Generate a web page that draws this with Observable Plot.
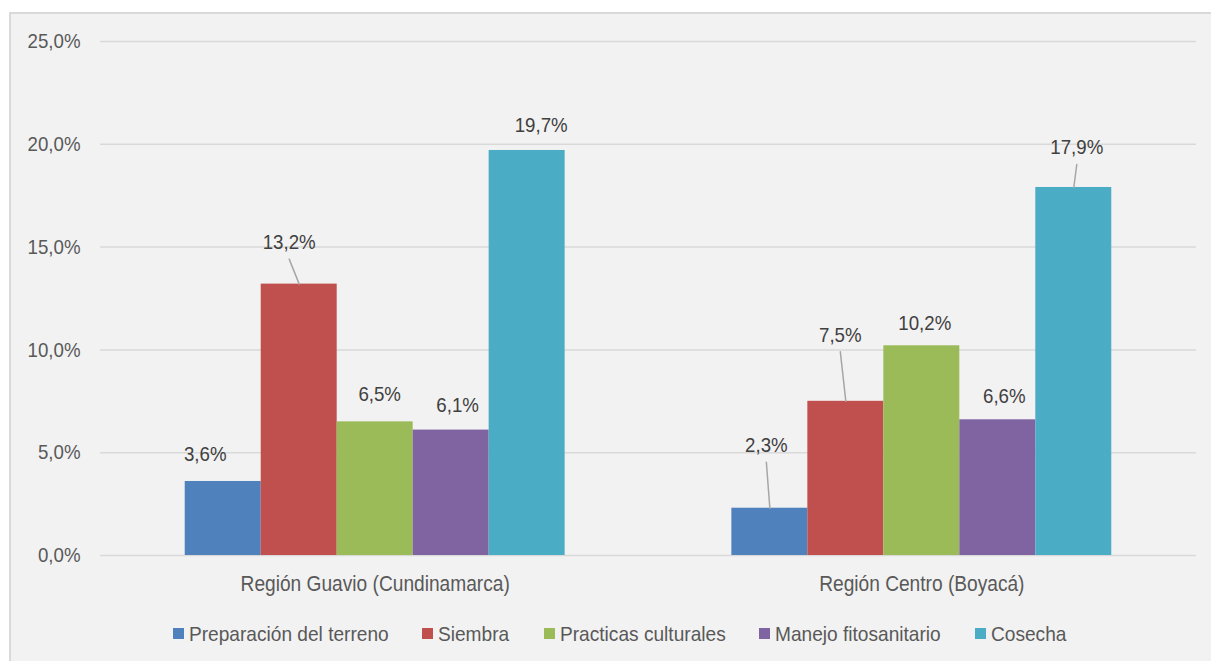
<!DOCTYPE html>
<html><head><meta charset="utf-8">
<script src="https://cdn.jsdelivr.net/npm/d3@7"></script>
<script src="https://cdn.jsdelivr.net/npm/@observablehq/plot@0.6"></script>
<style>
body{margin:0;background:#fff;width:1211px;height:661px;overflow:hidden;position:relative;}
#frame{position:absolute;left:9px;top:12px;width:1202px;height:649px;background:#f2f2f2;border-left:2px solid #d9d9d9;border-top:2px solid #d9d9d9;box-sizing:border-box;}
#grid,#chart{position:absolute;left:0;top:0;}
#legend{position:absolute;left:28px;top:620px;width:1183px;height:27px;display:flex;justify-content:center;align-items:center;
  font-family:"Liberation Sans",Arial,sans-serif;font-size:21px;color:#595959;}
#legend .item{display:flex;align-items:center;margin-right:34px;}
#legend .item:last-child{margin-right:0;}
#legend .sw{width:11px;height:11px;margin-right:5px;flex:none;}
#legend .lab{display:inline-block;white-space:nowrap;overflow:visible;}
#legend .lab span{display:inline-block;transform-origin:0 50%;}
</style></head><body>
<div id="frame"></div><div id="grid"></div><div id="chart"></div><div id="legend"></div>
<script>
const regions = ["Región Guavio (Cundinamarca)", "Región Centro (Boyacá)"];
const activities = ["Preparación del terreno", "Siembra", "Practicas culturales", "Manejo fitosanitario", "Cosecha"];
const guavio = [3.6, 13.2, 6.5, 6.1, 19.7];
const centro = [2.3, 7.5, 10.2, 6.6, 17.9];
const yTicks = [0, 5, 10, 15, 20, 25];
const colors = ["#4f81bd", "#c0504d", "#9bbb59", "#8064a2", "#4bacc6"];
// label placement (px, relative to the top-centre of each bar), as in the original
const labelDxGuavio = [-18, -10, 4.5, 6.5, 14];
const labelDyGuavio = [-27.5, -42, -28, -25, -25];
const labelDxCentro = [-3.5, -5.5, 3, 6.5, 3];
const labelDyCentro = [-63, -66.5, -23, -24, -40];
const leaderGuavio = [false, true, false, false, false];
const leaderCentro = [true, true, false, false, true];

const fmt = v => v.toFixed(1).replace(".", ",") + "%";
const FONT = '"Liberation Sans",Arial,sans-serif';

const series = [
  {region: regions[0], values: guavio, dx: labelDxGuavio, dy: labelDyGuavio, leader: leaderGuavio},
  {region: regions[1], values: centro, dx: labelDxCentro, dy: labelDyCentro, leader: leaderCentro}
];
const rows = series.flatMap(s => activities.map((a, i) => ({
  region: s.region, activity: a, value: s.values[i], dx: s.dx[i], dy: s.dy[i], leader: s.leader[i]
})));
const leaders = rows.filter(r => r.leader).map(r => {
  const vx = r.dx, vy = r.dy + 17;
  return {...r, len: Math.hypot(vx, vy), rot: Math.atan2(vx, -vy) * 180 / Math.PI};
});

const common = {
  width: 1211, height: 600,
  marginLeft: 100, marginRight: 15, marginTop: 41, marginBottom: 45,
  style: {fontFamily: FONT, background: "transparent", overflow: "visible"}
};

// background layer: gridlines + y axis across the full plot width
const grid = Plot.plot({
  ...common,
  y: {domain: [0, 25]},
  marks: [
    Plot.ruleY(yTicks, {stroke: "#d9d9d9", strokeWidth: 1.5}),
    Plot.axisY(yTicks, {tickSize: 0, tickPadding: 20, tickFormat: fmt, fontSize: 21, color: "#595959", label: null})
  ]
});
document.getElementById("grid").appendChild(grid);

const chart = Plot.plot({
  ...common,
  fx: {domain: regions, paddingInner: 0.305, paddingOuter: 0.155, round: false, label: null},
  x: {domain: activities, padding: 0, round: false, axis: null},
  y: {domain: [0, 25], axis: null},
  color: {domain: activities, range: colors},
  length: {type: "identity"},
  marks: [
    Plot.barY(rows, {fx: "region", x: "activity", y: "value", fill: "activity"}),
    Plot.vector(leaders, {fx: "region", x: "activity", y: "value", length: "len", rotate: "rot", anchor: "start", r: 0, stroke: "#a6a6a6", strokeWidth: 1.5}),
    ...rows.map(r => Plot.text([r], {fx: "region", x: "activity", y: "value", text: d => fmt(d.value), dx: r.dx, dy: r.dy, fontSize: 21, fill: "#404040"})),
    Plot.axisFx({anchor: "bottom", tickSize: 0, tickPadding: 20, label: null, fontSize: 22, color: "#595959"})
  ]
});
document.getElementById("chart").appendChild(chart);

// the original typeface is slightly condensed: narrow the glyphs to its measured widths
const ctx = document.createElement("canvas").getContext("2d");
function squeeze(sel, size, ratio) {
  ctx.font = `${size}px "Liberation Sans", Arial, sans-serif`;
  sel.each(function() {
    const w = ctx.measureText(this.textContent).width;
    this.setAttribute("font-size", size);
    this.setAttribute("textLength", (w * ratio).toFixed(1));
    this.setAttribute("lengthAdjust", "spacingAndGlyphs");
  });
}
squeeze(d3.select(grid).selectAll('g[aria-label="y-axis tick label"] text'), 21, 0.89);
squeeze(d3.select(chart).selectAll('g[aria-label="text"] text'), 21, 0.89);
squeeze(d3.select(chart).selectAll('g[aria-label="fx-axis tick label"] text'), 22, 0.87);

const cs = chart.scale("color");
const legend = d3.select("#legend");
cs.domain.forEach((d, i) => {
  const it = legend.append("div").attr("class", "item");
  it.append("div").attr("class", "sw").style("background", cs.range[i]);
  const lab = it.append("div").attr("class", "lab");
  const inner = lab.append("span").text(d);
  const w = inner.node().getBoundingClientRect().width;
  const r = 0.91;
  inner.style("transform", `scaleX(${r})`);
  lab.style("width", (w * r) + "px");
});
</script>
</body></html>
